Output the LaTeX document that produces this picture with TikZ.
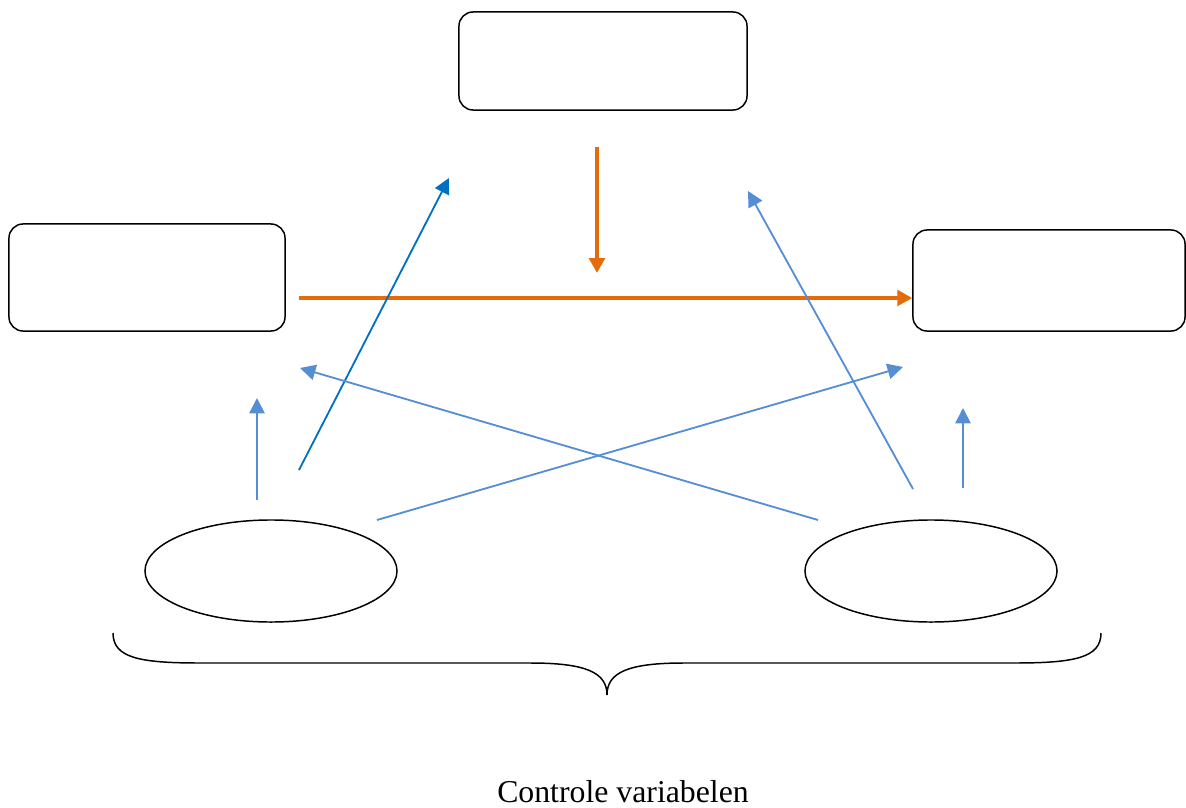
\documentclass[tikz,border=0pt]{standalone}
\usepackage{fontspec}
\setmainfont{Liberation Serif}
\usetikzlibrary{positioning, arrows.meta, shapes.geometric}
\definecolor{arroworange}{RGB}{228,108,10}
\definecolor{arrowblue}{RGB}{85,142,213}
\definecolor{darkblue}{RGB}{0,112,192}

\begin{document}
\begin{tikzpicture}[x=0.025cm,y=-0.025cm,
  box/.style={draw,line width=1.05pt,rounded corners=10pt,inner sep=0pt},
  ell/.style={draw,ellipse,line width=1.05pt,inner sep=0pt,minimum width=6.3cm,minimum height=2.55cm},
  orangearrow/.style={-{Triangle[length=10.5pt,width=11pt]},line width=2.6pt,arroworange},
  bluearrow/.style={-{Triangle[length=11pt,width=11pt]},line width=1.3pt,arrowblue}]
\useasboundingbox (0,0) rectangle (1186,808);
% boxes
\node[box,minimum width=7.2cm,minimum height=2.45cm] (topbox) at (603,61) {};
\node[box,minimum width=6.9cm,minimum height=2.675cm] (leftbox) at (147,277.5) {};
\node[box,minimum width=6.8cm,minimum height=2.525cm] (rightbox) at (1049,280.5) {};
\node[ell] (leftell) at (271,571) {};
\node[ell] (rightell) at (931,571) {};
% arrow ends
\coordinate (oa) at (597,147); \coordinate (ob) at (597,273);
\coordinate (oc) at (299,298);
\coordinate (la) at (299,470); \coordinate (lb) at (449,178);
\coordinate (lc) at (257,500); \coordinate (ld) at (257,398);
\coordinate (le) at (377,520); \coordinate (lf) at (903,367);
\coordinate (ra) at (818,520); \coordinate (rb) at (300,368);
\coordinate (rc) at (913,489); \coordinate (rd) at (748,191);
\coordinate (re) at (963,488); \coordinate (rf) at (963,408);
% arrows
\draw[orangearrow] (oa)--(ob);
\draw[orangearrow] (oc)--(rightbox.west |- oc);
\draw[bluearrow,darkblue] (la)--(lb);
\draw[bluearrow] (lc)--(ld);
\draw[bluearrow] (le)--(lf);
\draw[bluearrow] (ra)--(rb);
\draw[bluearrow] (rc)--(rd);
\draw[bluearrow] (re)--(rf);
% brace
\draw[line width=1.05pt] (113,633) .. controls (113,658) and (140,663) .. (200,663) -- (530,663)
  .. controls (585,663) and (607,672) .. (607,695)
  .. controls (607,672) and (629,663) .. (684,663) -- (1014,663)
  .. controls (1074,663) and (1101,658) .. (1101,633);
\node[font=\fontsize{22.6}{27}\selectfont,anchor=base,inner sep=0pt] (ctrl) at (623,802) {Controle variabelen};
\end{tikzpicture}
\end{document}
